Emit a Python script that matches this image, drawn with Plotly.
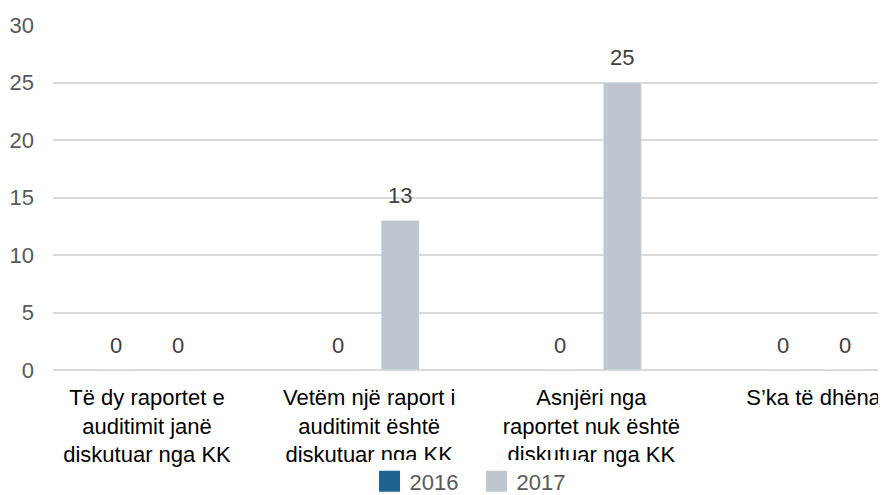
import plotly.graph_objects as go

categories = [
    "Të dy raportet e<br>auditimit janë<br>diskutuar nga KK",
    "Vetëm një raport i<br>auditimit është<br>diskutuar nga KK",
    "Asnjëri nga<br>raportet nuk është<br>diskutuar nga KK",
    "S’ka të dhëna",
]
series_names = ["2016", "2017"]
values_2016 = [0, 0, 0, 0]
values_2017 = [0, 13, 25, 0]
y_ticks = [0, 5, 10, 15, 20, 25, 30]

FONT = "Liberation Sans, Arial, sans-serif"
FS = 22
LABEL_COLOR = "#404040"
COLORS = ["#1F6391", "#BFC6CE"]

fig = go.Figure()
for name, vals, col in zip(series_names, (values_2016, values_2017), COLORS):
    fig.add_trace(go.Bar(
        name=name, x=categories, y=vals,
        marker=dict(color=col), showlegend=False, legendgroup=name,
    ))
# legend entries with larger square swatches
for name, col in zip(series_names, COLORS):
    fig.add_trace(go.Scatter(
        name=name, x=[None], y=[None], mode="markers", legendgroup=name,
        marker=dict(symbol="square", size=16, color=col, line=dict(width=5, color=col)),
        hoverinfo="skip",
    ))

# data labels above bars (offset to each bar's slot in the group)
for vals, xs in ((values_2016, -31), (values_2017, 31)):
    for cat, v in zip(categories, vals):
        fig.add_annotation(x=cat, y=v, text=str(v), showarrow=False,
                           xshift=xs, yshift=25, yanchor="middle",
                           font=dict(size=FS, color=LABEL_COLOR, family=FONT))

# page body has an 8px margin: figure is offset by (8, 8) in the window
fig.update_layout(
    width=878, height=487,
    margin=dict(l=45, r=0, t=17, b=125, autoexpand=False),
    paper_bgcolor="white", plot_bgcolor="white",
    barmode="group", bargap=0.442, bargroupgap=0.387,
    font=dict(family=FONT, size=FS, color="#000000"),
    showlegend=True,
    legend=dict(orientation="h", x=0.380, xanchor="left", y=-0.384, yanchor="bottom",
                font=dict(size=FS, color="#595959"), traceorder="normal",
                itemwidth=30, itemsizing="trace", entrywidth=62, entrywidthmode="pixels"),
    xaxis=dict(type="category", range=[-0.423, 3.326], showgrid=False,
               showline=False, ticks="", tickfont=dict(size=FS, color="#000000"),
               tickangle=0, automargin=False, ticklabelstandoff=12),
    yaxis=dict(range=[0, 30], tickvals=y_ticks, showgrid=True, gridcolor="#D9D9D9",
               gridwidth=1.5, zeroline=True, zerolinecolor="#D9D9D9", zerolinewidth=1.5,
               showline=False, ticks="", tickfont=dict(size=FS, color="#595959"),
               ticklabelstandoff=18, automargin=False),
)

fig.write_html("out.html")
